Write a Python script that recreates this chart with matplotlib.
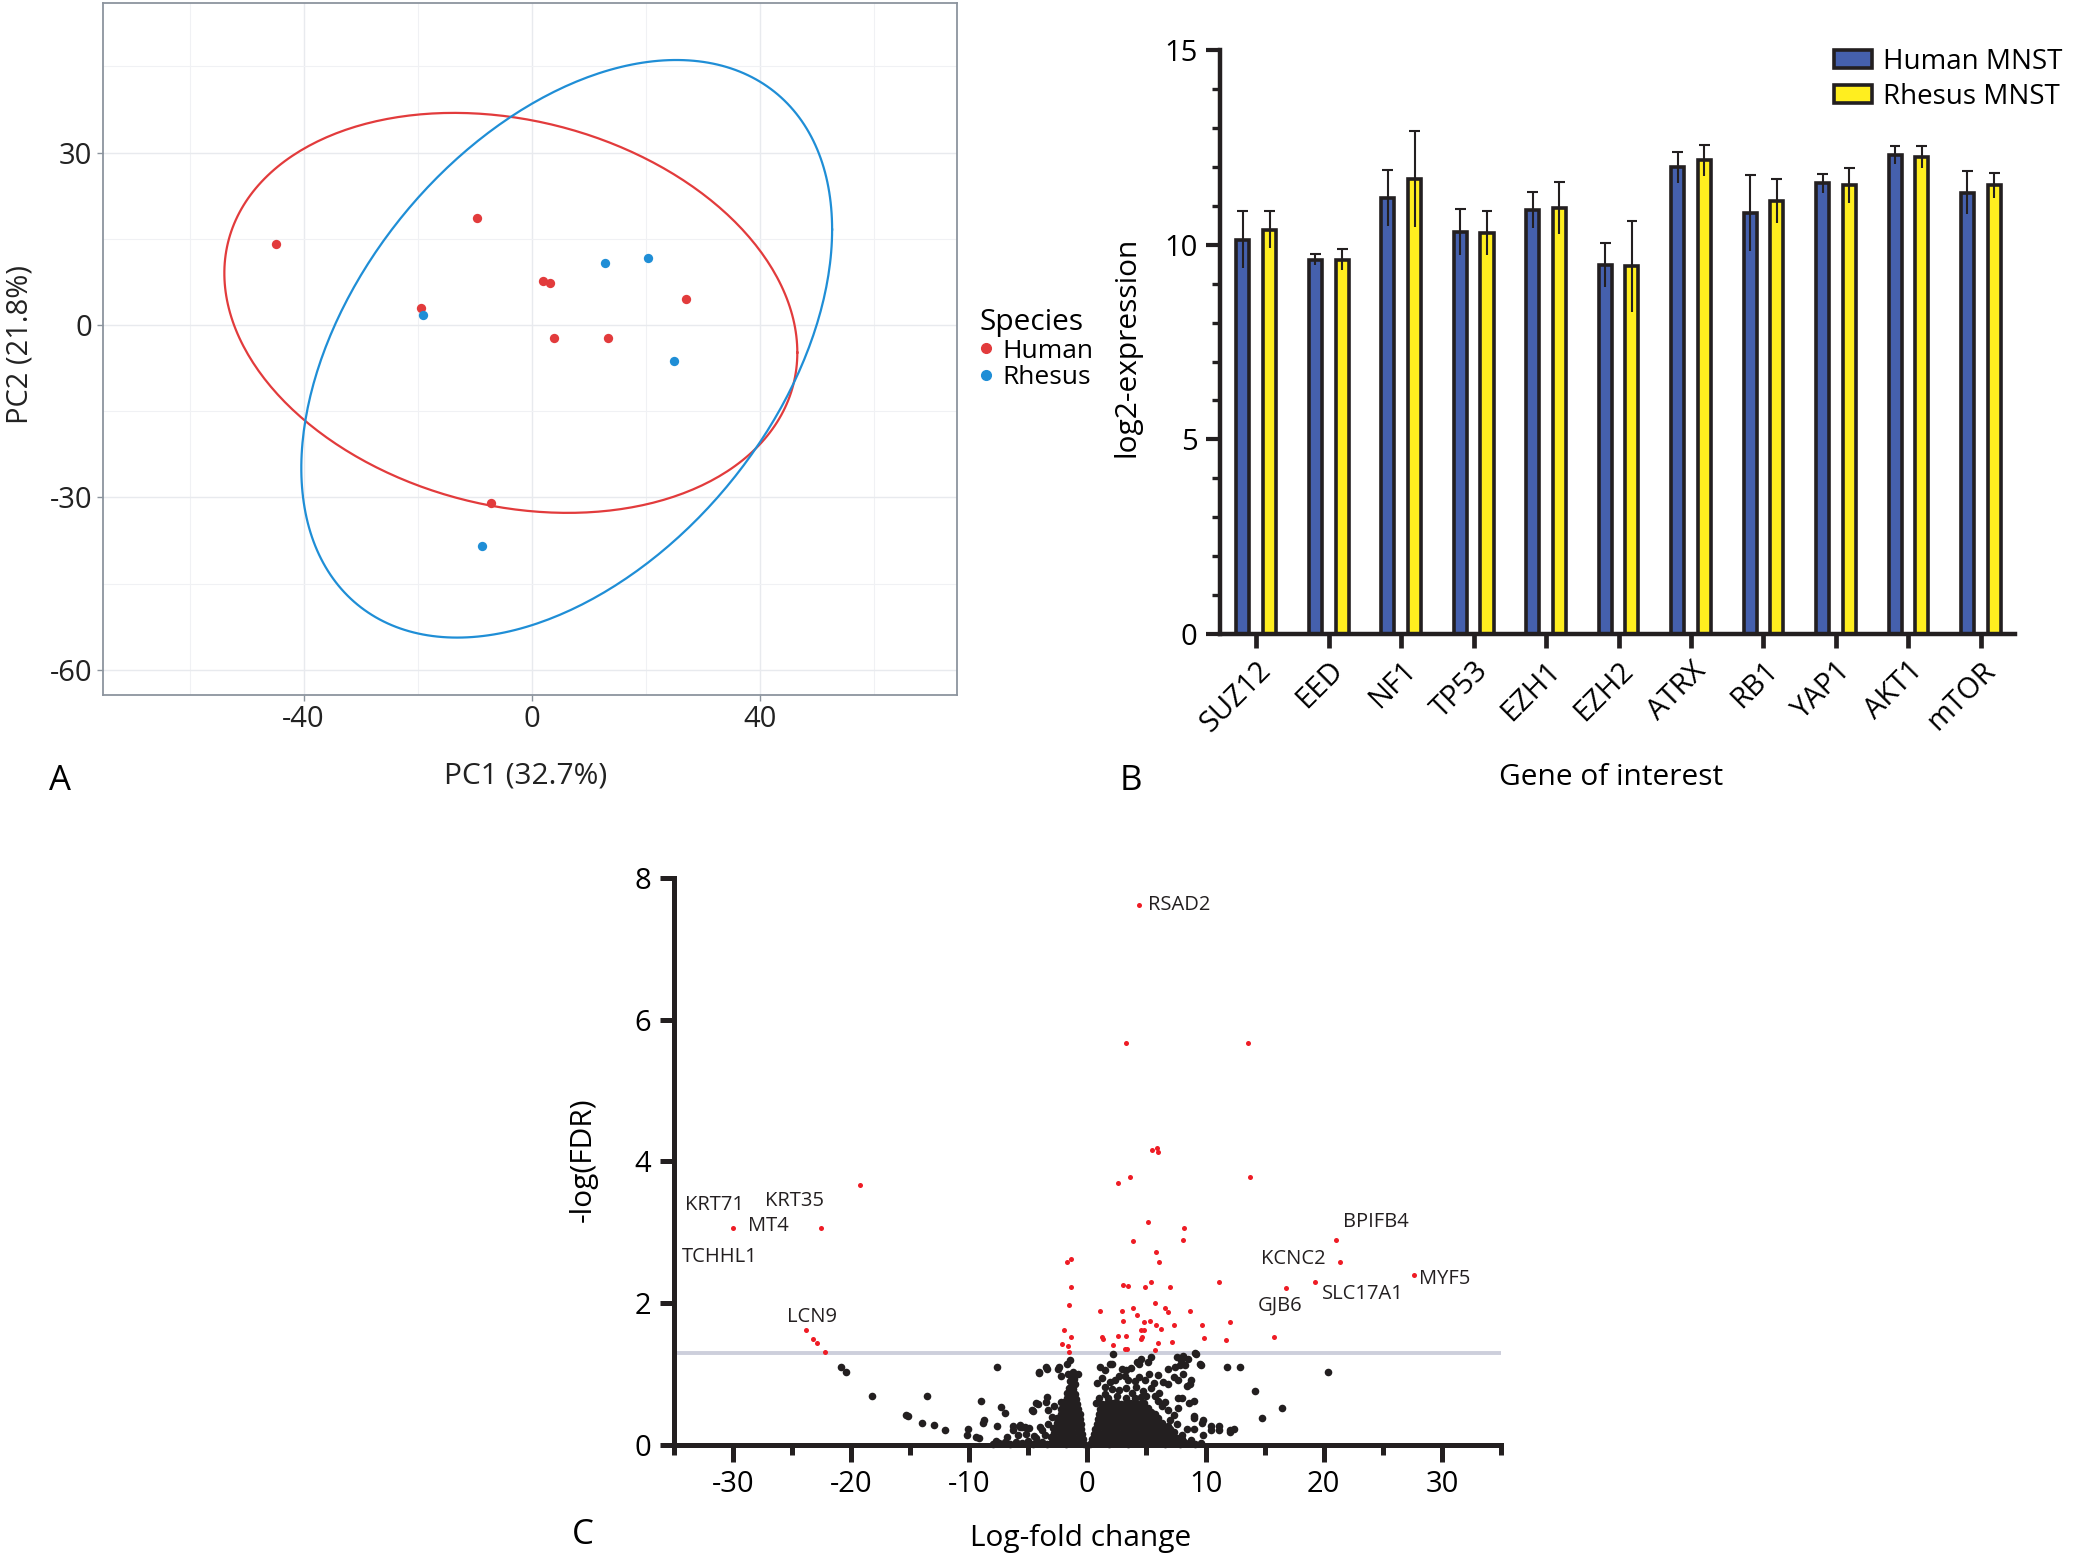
import numpy as np
import matplotlib
matplotlib.use("Agg")
import matplotlib.pyplot as plt
from matplotlib.patches import Patch
from matplotlib.lines import Line2D
from matplotlib.ticker import MultipleLocator

plt.rcParams['font.family'] = ['Open Sans', 'DejaVu Sans']
plt.rcParams['axes.unicode_minus'] = False

# ---------------- panel A : PCA ----------------
human_pc1 = [-44.9, -9.5, -19.4, 2.0, 3.2, 27.1, 4.0, 13.4, -7.1]
human_pc2 = [14.1, 18.6, 2.9, 7.7, 7.3, 4.6, -2.3, -2.3, -30.9]
rhesus_pc1 = [-19.0, 12.8, 20.4, 24.9, -8.7]
rhesus_pc2 = [1.7, 10.7, 11.7, -6.3, -38.5]
# confidence ellipses: centre and shape matrix
human_ell_c = [-3.65, 2.1]
human_ell_m = [[2525, -347], [-347, 1211]]
rhesus_ell_c = [6.15, -4.15]
rhesus_ell_m = [[2167, 966], [966, 2525]]

# ---------------- panel B : bars ----------------
genes = ["SUZ12", "EED", "NF1", "TP53", "EZH1", "EZH2", "ATRX", "RB1", "YAP1", "AKT1", "mTOR"]
human_mean = [10.13, 9.62, 11.2, 10.33, 10.9, 9.48, 11.99, 10.82, 11.58, 12.32, 11.34]
human_err = [0.73, 0.14, 0.72, 0.60, 0.47, 0.56, 0.41, 0.97, 0.25, 0.23, 0.55]
rhesus_mean = [10.39, 9.62, 11.7, 10.3, 10.94, 9.45, 12.17, 11.13, 11.53, 12.26, 11.53]
rhesus_err = [0.47, 0.27, 1.24, 0.56, 0.67, 1.17, 0.41, 0.57, 0.45, 0.29, 0.33]

# ---------------- panel C : volcano ----------------
sig_pts = [(4.35, 7.61), (3.3, 5.67), (13.6, 5.67), (5.5, 4.16), (5.9, 4.19), (6.0, 4.14),
           (3.6, 3.78), (13.8, 3.78), (2.6, 3.69), (-19.2, 3.67), (-30.0, 3.06), (-22.5, 3.06),
           (5.1, 3.14), (8.2, 3.06), (8.1, 2.90), (3.9, 2.88), (21.0, 2.90), (21.4, 2.58),
           (27.6, 2.40), (19.3, 2.30), (16.8, 2.21), (15.8, 1.53), (5.8, 2.72), (6.1, 2.58),
           (-1.35, 2.63), (-1.76, 2.58), (-1.35, 2.23), (-1.55, 1.98), (3.05, 2.26), (3.4, 2.24),
           (5.4, 2.30), (4.9, 2.23), (7.0, 2.23), (11.1, 2.30), (5.7, 2.0), (1.1, 1.89),
           (2.9, 1.89), (3.9, 1.94), (6.6, 1.93), (6.8, 1.88), (8.7, 1.89), (4.2, 1.83),
           (3.0, 1.75), (4.8, 1.73), (5.3, 1.75), (5.8, 1.69), (6.2, 1.64), (7.3, 1.69),
           (9.7, 1.69), (12.1, 1.73), (4.5, 1.62), (4.8, 1.62), (-2.0, 1.62), (-1.4, 1.53),
           (1.2, 1.53), (1.35, 1.50), (2.6, 1.54), (3.3, 1.54), (4.65, 1.52), (4.5, 1.50),
           (5.95, 1.44), (7.2, 1.46), (9.9, 1.51), (11.7, 1.48), (-2.1, 1.43), (-1.65, 1.40),
           (-1.55, 1.32), (2.2, 1.41), (3.15, 1.36), (3.35, 1.36), (5.7, 1.34), (-23.8, 1.62),
           (-23.2, 1.50), (-22.9, 1.44), (-22.2, 1.32)]

ns_right = [(0.25, 0.02), (0.6, 0.04), (1.0, 0.03), (1.4, 0.05), (1.8, 0.02), (2.2, 0.04), (2.6, 0.03),
            (3.0, 0.05), (3.4, 0.02), (3.8, 0.04), (4.2, 0.03), (4.6, 0.05), (5.0, 0.02), (5.4, 0.04),
            (5.8, 0.03), (6.2, 0.05), (6.6, 0.02), (7.0, 0.04), (7.4, 0.03), (7.8, 0.02), (8.2, 0.04),
            (8.6, 0.03), (9.1, 0.02), (9.6, 0.03),
            (0.4, 0.09), (0.75, 0.11), (1.15, 0.10), (1.55, 0.12), (1.95, 0.09), (2.35, 0.11), (2.75, 0.10),
            (3.15, 0.12), (3.55, 0.09), (3.95, 0.11), (4.35, 0.10), (4.75, 0.12), (5.15, 0.09), (5.55, 0.11),
            (5.95, 0.10), (6.35, 0.12), (6.75, 0.09), (7.15, 0.11), (7.6, 0.10), (8.0, 0.09),
            (0.55, 0.16), (0.9, 0.18), (1.3, 0.17), (1.7, 0.19), (2.1, 0.16), (2.5, 0.18), (2.9, 0.17),
            (3.3, 0.19), (3.7, 0.16), (4.1, 0.18), (4.5, 0.17), (4.9, 0.19), (5.3, 0.16), (5.7, 0.18),
            (6.1, 0.17), (6.5, 0.19), (6.9, 0.16), (7.3, 0.18),
            (0.65, 0.23), (1.0, 0.25), (1.4, 0.24), (1.8, 0.26), (2.2, 0.23), (2.6, 0.25), (3.0, 0.24),
            (3.4, 0.26), (3.8, 0.23), (4.2, 0.25), (4.6, 0.24), (5.0, 0.26), (5.4, 0.23), (5.8, 0.25),
            (6.2, 0.24), (6.6, 0.26), (7.0, 0.23),
            (0.8, 0.30), (1.15, 0.32), (1.55, 0.31), (1.95, 0.33), (2.35, 0.30), (2.75, 0.32), (3.15, 0.31),
            (3.55, 0.33), (3.95, 0.30), (4.35, 0.32), (4.75, 0.31), (5.15, 0.33), (5.55, 0.30), (5.95, 0.32),
            (6.35, 0.31),
            (0.9, 0.37), (1.3, 0.39), (1.7, 0.38), (2.1, 0.40), (2.5, 0.37), (2.9, 0.39), (3.3, 0.38),
            (3.7, 0.40), (4.1, 0.37), (4.5, 0.39), (4.9, 0.38), (5.3, 0.40), (5.7, 0.37), (6.0, 0.39),
            (1.0, 0.44), (1.4, 0.46), (1.8, 0.45), (2.2, 0.47), (2.6, 0.44), (3.0, 0.46), (3.4, 0.45),
            (3.8, 0.47), (4.2, 0.44), (4.6, 0.46), (5.0, 0.45), (5.4, 0.47), (5.7, 0.44),
            (1.1, 0.51), (1.5, 0.53), (1.9, 0.52), (2.3, 0.54), (2.7, 0.51), (3.1, 0.53), (3.5, 0.52),
            (3.9, 0.54), (4.3, 0.51), (4.7, 0.53), (5.1, 0.52),
            (1.25, 0.58), (1.65, 0.60), (2.05, 0.59), (2.45, 0.61), (2.85, 0.58), (3.25, 0.60), (3.65, 0.59),
            (4.05, 0.61), (4.45, 0.58), (4.8, 0.60)]

ns_right_scatter = [(2.2, 1.28), (1.1, 1.10), (1.9, 1.14), (2.1, 1.14), (4.2, 1.18), (4.4, 1.15), (5.1, 1.17),
                    (7.6, 1.25), (8.1, 1.26), (9.2, 1.28), (9.6, 1.13), (6.8, 1.07), (7.4, 1.10), (7.8, 1.13),
                    (8.3, 1.13), (7.3, 0.96), (7.7, 0.92), (8.1, 1.0), (8.8, 0.92), (8.4, 0.83), (7.7, 0.66),
                    (8.0, 0.66), (8.6, 0.60), (9.0, 0.39), (9.7, 0.32), (8.4, 0.23), (9.0, 0.23), (10.5, 0.22),
                    (11.1, 0.22), (12.1, 0.19), (9.8, 0.15), (8.8, 0.08), (2.9, 1.07), (3.3, 1.06), (3.7, 1.09),
                    (1.5, 1.06), (1.2, 0.95), (1.9, 0.89), (2.3, 0.92), (2.7, 0.97), (3.2, 0.98), (0.85, 0.88),
                    (1.5, 0.82), (3.4, 0.92), (4.0, 0.91), (4.4, 0.96), (4.9, 0.92), (5.2, 1.01), (5.6, 0.88),
                    (6.0, 0.99), (6.4, 0.89), (6.8, 0.86), (2.1, 0.79), (2.7, 0.78), (3.3, 0.80), (4.1, 0.82),
                    (4.7, 0.77), (5.4, 0.80), (6.1, 0.73), (5.7, 0.70), (1.0, 0.66), (1.75, 0.66), (3.3, 0.66),
                    (4.0, 0.66), (5.0, 0.69), (6.55, 0.61), (6.8, 0.49), (7.3, 0.42), (7.7, 0.52), (6.8, 0.27),
                    (6.3, 0.55), (7.0, 0.35), (7.6, 0.30), (8.0, 0.15), (1.5, 0.72), (2.5, 0.70), (3.8, 0.73),
                    (4.5, 0.68), (0.7, 0.60), (6.0, 0.63), (4.5, 1.21), (5.4, 1.25), (7.9, 1.20), (8.5, 1.22),
                    (9.15, 1.30), (9.5, 1.15), (8.7, 0.86), (9.0, 0.63), (11.85, 1.10), (12.9, 1.10),
                    (14.2, 0.77), (16.5, 0.53), (14.8, 0.38), (20.4, 1.03), (10.5, 0.27), (11.1, 0.27),
                    (12.1, 0.22), (12.4, 0.23), (9.8, 0.35), (9.0, 0.41)]

ns_left = [(-0.25, 0.02), (-0.6, 0.04), (-1.0, 0.03), (-1.4, 0.05), (-1.8, 0.02), (-2.2, 0.04), (-2.6, 0.03),
           (-3.0, 0.05), (-3.4, 0.02), (-3.8, 0.04), (-4.2, 0.03), (-4.6, 0.02),
           (-0.35, 0.09), (-0.7, 0.11), (-1.1, 0.10), (-1.5, 0.12), (-1.9, 0.09), (-2.3, 0.11), (-2.7, 0.10),
           (-3.1, 0.12),
           (-0.45, 0.16), (-0.8, 0.18), (-1.2, 0.17), (-1.6, 0.19), (-2.0, 0.16), (-2.4, 0.18), (-2.8, 0.17),
           (-0.5, 0.23), (-0.9, 0.25), (-1.3, 0.24), (-1.7, 0.26), (-2.1, 0.23), (-2.5, 0.25), (-2.9, 0.24),
           (-0.55, 0.30), (-0.95, 0.32), (-1.35, 0.31), (-1.75, 0.33), (-2.15, 0.30), (-2.55, 0.32),
           (-0.6, 0.37), (-1.0, 0.39), (-1.4, 0.38), (-1.8, 0.40), (-2.2, 0.37), (-2.55, 0.39),
           (-0.65, 0.44), (-1.05, 0.46), (-1.45, 0.45), (-1.85, 0.47), (-2.25, 0.44),
           (-0.75, 0.51), (-1.15, 0.53), (-1.55, 0.52), (-1.95, 0.54), (-2.2, 0.51),
           (-0.85, 0.58), (-1.2, 0.60), (-1.6, 0.59), (-1.95, 0.61),
           (-0.95, 0.65), (-1.3, 0.67), (-1.7, 0.66),
           (-1.05, 0.72), (-1.4, 0.74), (-1.75, 0.73),
           (-1.2, 0.79), (-1.55, 0.81),
           (-1.3, 0.87), (-1.5, 0.90), (-1.1, 0.93), (-1.4, 0.97), (-1.6, 1.0), (-1.2, 1.03), (-1.7, 1.15),
           (-1.5, 1.20), (-0.8, 1.0), (-2.2, 0.97), (-1.0, 0.86)]

ns_left_scatter = [(-3.5, 0.61), (-4.6, 0.48), (-4.2, 0.58), (-3.3, 0.49), (-2.2, 0.61), (-4.1, 1.02),
                   (-3.4, 1.08), (-2.5, 1.08), (-2.4, 1.10), (-3.0, 0.40), (-3.3, 0.30), (-2.8, 0.55),
                   (-6.3, 0.22), (-5.7, 0.26), (-5.3, 0.26), (-4.9, 0.24), (-4.0, 0.25), (-3.8, 0.21),
                   (-5.9, 0.14), (-5.2, 0.16), (-4.5, 0.13), (-5.0, 0.06), (-5.5, 0.03), (-6.0, 0.05),
                   (-6.5, 0.02), (-7.0, 0.04), (-7.5, 0.03), (-8.0, 0.02), (-3.6, 0.15), (-4.3, 0.10),
                   (-6.8, 0.12), (-20.8, 1.10), (-20.4, 1.03), (-18.2, 0.69), (-7.65, 1.10), (-13.6, 0.69),
                   (-9.0, 0.62), (-15.3, 0.43), (-15.2, 0.41), (-14.0, 0.31), (-13.0, 0.29), (-12.0, 0.21),
                   (-10.1, 0.23), (-10.2, 0.14), (-9.4, 0.11), (-9.2, 0.10), (-8.7, 0.36), (-8.8, 0.32),
                   (-7.3, 0.54), (-7.0, 0.46), (-7.65, 0.27), (-7.75, 0.06), (-6.3, 0.27), (-5.7, 0.29),
                   (-5.5, 0.25), (-4.1, 1.03), (-3.5, 1.10), (-4.65, 0.49), (-4.3, 0.60), (-3.4, 0.68)]

gene_labels = ["RSAD2", "KRT71", "KRT35", "MT4", "TCHHL1", "LCN9", "BPIFB4", "KCNC2", "MYF5", "SLC17A1", "GJB6"]
gene_label_x = [5.1, -34.0, -27.3, -28.7, -34.3, -25.4, 21.65, 14.7, 28.1, 19.85, 14.4]
gene_label_y = [7.62, 3.38, 3.44, 3.09, 2.66, 1.81, 3.14, 2.63, 2.35, 2.13, 1.96]
fdr_cut = 1.301

RED_A = "#E23B3C"
BLUE_A = "#1F8ED6"
BAR_BLUE = "#4560AD"
BAR_YEL = "#FFEE1F"
VRED = "#EE1C25"
INK = "#231F20"

fig = plt.figure(figsize=(20.79, 15.56), dpi=100)

# ===== A =====
axA = fig.add_axes([0.0495, 0.5533, 0.4108, 0.4447])
t = np.linspace(0, 2 * np.pi, 300)
for c, m, col in [(human_ell_c, human_ell_m, RED_A), (rhesus_ell_c, rhesus_ell_m, BLUE_A)]:
    L = np.linalg.cholesky(np.array(m, dtype=float))
    pts = np.array(c)[:, None] + L @ np.vstack([np.cos(t), np.sin(t)])
    axA.plot(pts[0], pts[1], color=col, lw=1.6, zorder=3)
axA.scatter(human_pc1, human_pc2, s=45, color=RED_A, zorder=4, linewidths=0)
axA.scatter(rhesus_pc1, rhesus_pc2, s=45, color=BLUE_A, zorder=4, linewidths=0)
axA.set_xlim(-75.2, 74.6)
axA.set_ylim(-64.4, 56)
axA.set_xticks([-40, 0, 40])
axA.set_yticks([-60, -30, 0, 30])
axA.xaxis.set_minor_locator(MultipleLocator(20))
axA.yaxis.set_minor_locator(MultipleLocator(15))
axA.grid(True, which='major', color='#E8EAEE', lw=1.0)
axA.grid(True, which='minor', color='#F0F1F4', lw=0.8)
axA.set_axisbelow(True)
for s in axA.spines.values():
    s.set_color('#8C949E')
    s.set_linewidth(1.3)
axA.tick_params(which='major', length=4, width=1, color='#8C949E', labelsize=21, labelcolor='#222222')
axA.tick_params(which='minor', length=0)
axA.set_xlabel("PC1 (32.7%)", fontsize=21.5, color='#222222')
axA.set_ylabel("PC2 (21.8%)", fontsize=21, color='#222222')
axA.xaxis.set_label_coords(0.495, -0.117)
axA.xaxis.label.set_va('center')
axA.yaxis.set_label_coords(-0.097, 0.506)
axA.yaxis.label.set_va('center')
hA = [Line2D([], [], ls='none', marker='o', ms=7, color=RED_A, label='Human'),
      Line2D([], [], ls='none', marker='o', ms=7, color=BLUE_A, label='Rhesus')]
legA = axA.legend(handles=hA, title='Species', loc='center left', bbox_to_anchor=(1.005, 0.50),
                  frameon=False, fontsize=19, title_fontsize=21.5, handlelength=0.5, handletextpad=0.35,
                  labelspacing=0.06, borderpad=0.2, alignment='left')

# ===== B =====
axB = fig.add_axes([0.5868, 0.5927, 0.3824, 0.3749])
x = np.arange(len(genes))
off = 0.185
bw = 0.18
axB.bar(x - off, human_mean, width=bw, color=BAR_BLUE, edgecolor=INK, lw=2.6, zorder=2)
axB.bar(x + off, rhesus_mean, width=bw, color=BAR_YEL, edgecolor=INK, lw=2.6, zorder=2)
for xs, mu, er in [(x - off, human_mean, human_err), (x + off, rhesus_mean, rhesus_err)]:
    mu = np.array(mu)
    er = np.array(er)
    axB.vlines(xs, mu - er, mu + er, color=INK, lw=1.5, zorder=3)
    axB.hlines(mu + er, xs - 0.075, xs + 0.075, color=INK, lw=1.5, zorder=3)
axB.set_xlim(-0.5, 10.47)
axB.set_ylim(0, 15)
axB.set_xticks(x)
axB.set_xticklabels(genes, rotation=45, ha='right', rotation_mode='anchor', fontsize=21)
axB.set_yticks([0, 5, 10, 15])
axB.yaxis.set_minor_locator(MultipleLocator(1))
for side in ['top', 'right']:
    axB.spines[side].set_visible(False)
for side in ['left', 'bottom']:
    axB.spines[side].set_linewidth(3.2)
    axB.spines[side].set_color(INK)
axB.tick_params(axis='x', length=10, width=3.4, color=INK, pad=6)
axB.tick_params(axis='y', which='major', length=10, width=3.0, color=INK, labelsize=21, pad=6)
axB.tick_params(axis='y', which='minor', length=6, width=2.4, color=INK)
axB.set_ylabel("log2-expression", fontsize=21.5)
axB.set_xlabel("Gene of interest", fontsize=21.5)
axB.yaxis.set_label_coords(-0.117, 0.492)
axB.yaxis.label.set_va('center')
axB.xaxis.set_label_coords(0.492, -0.247)
axB.xaxis.label.set_va('center')
hB = [Patch(facecolor=BAR_BLUE, edgecolor=INK, lw=2.6, label='Human MNST'),
      Patch(facecolor=BAR_YEL, edgecolor=INK, lw=2.6, label='Rhesus MNST')]
axB.legend(handles=hB, loc='upper left', bbox_to_anchor=(0.773, 1.004), frameon=False, fontsize=20,
           handlelength=1.35, handleheight=0.6, handletextpad=0.38, labelspacing=0.25,
           borderaxespad=0, borderpad=0)

# ===== C =====
axC = fig.add_axes([0.324, 0.0712, 0.398, 0.3647])
axC.axhline(fdr_cut, color='#CDCFDC', lw=2.8, zorder=1)
for grp in [ns_right, ns_right_scatter, ns_left, ns_left_scatter]:
    arr = np.array(grp)
    axC.scatter(arr[:, 0], arr[:, 1], s=30, color=INK, linewidths=0, zorder=2, clip_on=False)
sarr = np.array(sig_pts)
axC.scatter(sarr[:, 0], sarr[:, 1], s=13, color=VRED, linewidths=0, zorder=3, clip_on=False)
for lab, lx, ly in zip(gene_labels, gene_label_x, gene_label_y):
    axC.text(lx, ly, lab, fontsize=14.5, ha='left', va='center', color=INK)
axC.set_xlim(-35, 35)
axC.set_ylim(0, 8)
axC.set_xticks([-30, -20, -10, 0, 10, 20, 30])
axC.set_xticks([-35, -25, -15, -5, 5, 15, 25, 35], minor=True)
axC.set_yticks([0, 2, 4, 6, 8])
for side in ['top', 'right']:
    axC.spines[side].set_visible(False)
for side in ['left', 'bottom']:
    axC.spines[side].set_linewidth(3.6)
    axC.spines[side].set_color(INK)
axC.tick_params(axis='x', which='major', length=12, width=3.6, color=INK, labelsize=21, pad=6)
axC.tick_params(axis='x', which='minor', length=7, width=3.6, color=INK)
axC.tick_params(axis='y', which='major', length=10, width=3.6, color=INK, labelsize=21, pad=6)
axC.set_ylabel("-log(FDR)", fontsize=21.5)
axC.set_xlabel("Log-fold change", fontsize=21.5)
axC.yaxis.set_label_coords(-0.109, 0.503)
axC.yaxis.label.set_va('center')
axC.xaxis.set_label_coords(0.492, -0.164)
axC.xaxis.label.set_va('center')

fig.text(0.0289, 0.498, "A", fontsize=25, ha='center', va='center')
fig.text(0.544, 0.498, "B", fontsize=25, ha='center', va='center')
fig.text(0.2804, 0.0135, "C", fontsize=25, ha='center', va='center')

fig.savefig("out.png", dpi=100)
